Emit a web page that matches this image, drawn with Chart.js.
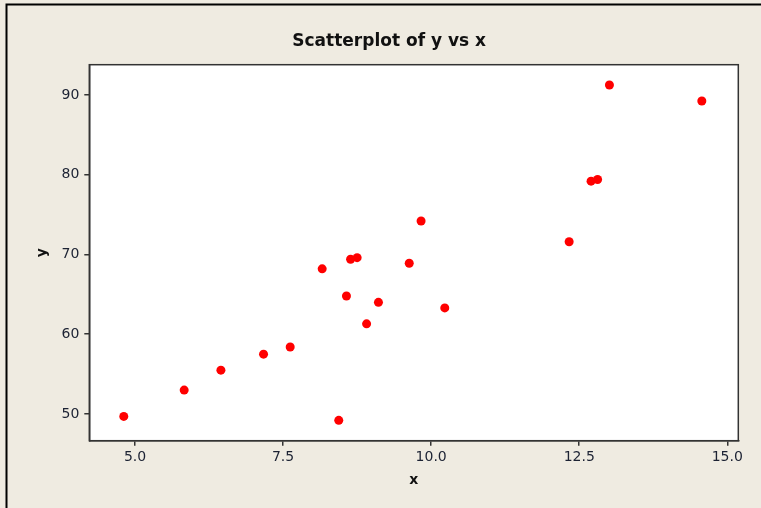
<!DOCTYPE html>
<html>
<head>
<meta charset="utf-8">
<script src="https://cdn.jsdelivr.net/npm/chart.js@4.4.0/dist/chart.umd.min.js"></script>
<style>
  html, body { margin: 0; padding: 0; background: #EFEBE1; }
  #wrap { width: 761px; height: 508px; }
</style>
</head>
<body>
<div id="wrap"><canvas id="scatter" width="761" height="508"></canvas></div>
<script>
// values
const xValues = [4.81, 5.83, 6.45, 7.17, 7.62, 8.16, 8.57, 8.64, 8.75, 8.44,
                 8.91, 9.11, 9.63, 9.83, 10.23, 12.33, 12.70, 12.81, 13.01, 14.57];
const yValues = [49.7, 53.0, 55.5, 57.5, 58.4, 68.2, 64.8, 69.4, 69.6, 49.2,
                 61.3, 64.0, 68.9, 74.2, 63.3, 71.6, 79.2, 79.4, 91.25, 89.25];
const xTicks = [5.0, 7.5, 10.0, 12.5, 15.0];
const yTicks = [50, 60, 70, 80, 90];

const points = xValues.map((x, i) => ({ x: x, y: yValues[i] }));

const frame = {
    id: 'frame',
    beforeDraw(chart) {
        const { ctx, chartArea } = chart;
        ctx.save();
        ctx.fillStyle = '#EFEBE1';
        ctx.fillRect(0, 0, chart.width, chart.height);
        ctx.strokeStyle = '#000';
        ctx.lineWidth = 2;
        ctx.beginPath();
        ctx.moveTo(6.5, chart.height);
        ctx.lineTo(6.5, 4.5);
        ctx.lineTo(chart.width, 4.5);
        ctx.stroke();
        ctx.fillStyle = '#fff';
        ctx.fillRect(chartArea.left, chartArea.top, chartArea.width, chartArea.height);
        ctx.restore();
    },
    afterDraw(chart) {
        const { ctx, chartArea } = chart;
        ctx.save();
        ctx.strokeStyle = '#333';
        ctx.lineWidth = 1.5;
        ctx.strokeRect(chartArea.left, chartArea.top, chartArea.width, chartArea.height);
        ctx.restore();
    }
};

const ctx = document.getElementById('scatter').getContext('2d');
new Chart(ctx, {
    type: 'scatter',
    data: {
        datasets: [{
            label: 'y vs x',
            data: points,
            backgroundColor: '#FF0000',
            borderColor: '#FF0000',
            borderWidth: 0,
            pointRadius: 4.5,
        }],
    },
    options: {
        responsive: false,
        animation: false,
        layout: { padding: { left: 40, right: 22.7, top: 0, bottom: 0 } },
        plugins: {
            legend: { display: false },
            tooltip: { enabled: false },
            title: {
                display: true,
                text: 'Scatterplot of y vs x',
                color: '#111',
                font: { family: 'DejaVu Sans', size: 17, weight: 'bold', lineHeight: 1.2 },
                padding: { top: 31.8, bottom: 12.5 },
            },
        },
        scales: {
            x: {
                type: 'linear',
                min: 4.228,
                max: 15.186,
                afterBuildTicks: (scale) => { scale.ticks = xTicks.map(v => ({ value: v })); },
                afterFit: (scale) => { scale.height = 67.3; },
                grid: { display: true, drawOnChartArea: false, drawTicks: true, tickLength: 5, color: '#333', lineWidth: 1.5 },
                border: { display: true, color: '#333', width: 1.5 },
                ticks: {
                    color: '#1c2233',
                    padding: 3,
                    maxRotation: 0,
                    font: { family: 'DejaVu Sans', size: 14 },
                    callback: (v) => Number(v).toFixed(1),
                },
                title: {
                    display: true,
                    text: 'x',
                    color: '#111',
                    font: { family: 'DejaVu Sans', size: 14, weight: 'bold' },
                    padding: { top: 0, bottom: 19.6 },
                },
            },
            y: {
                type: 'linear',
                min: 46.65,
                max: 93.8,
                afterBuildTicks: (scale) => { scale.ticks = yTicks.map(v => ({ value: v })); },
                afterFit: (scale) => { scale.width = 49.3; },
                grid: { display: true, drawOnChartArea: false, drawTicks: true, tickLength: 5, color: '#333', lineWidth: 1.5 },
                border: { display: true, color: '#333', width: 1.5 },
                ticks: {
                    color: '#1c2233',
                    padding: 5,
                    font: { family: 'DejaVu Sans', size: 14 },
                },
                title: {
                    display: true,
                    text: 'y',
                    color: '#111',
                    font: { family: 'DejaVu Sans', size: 14, weight: 'bold', lineHeight: 0.3 },
                    padding: { top: 0, bottom: 0 },
                },
            },
        },
    },
    plugins: [frame],
});
</script>
</body>
</html>
